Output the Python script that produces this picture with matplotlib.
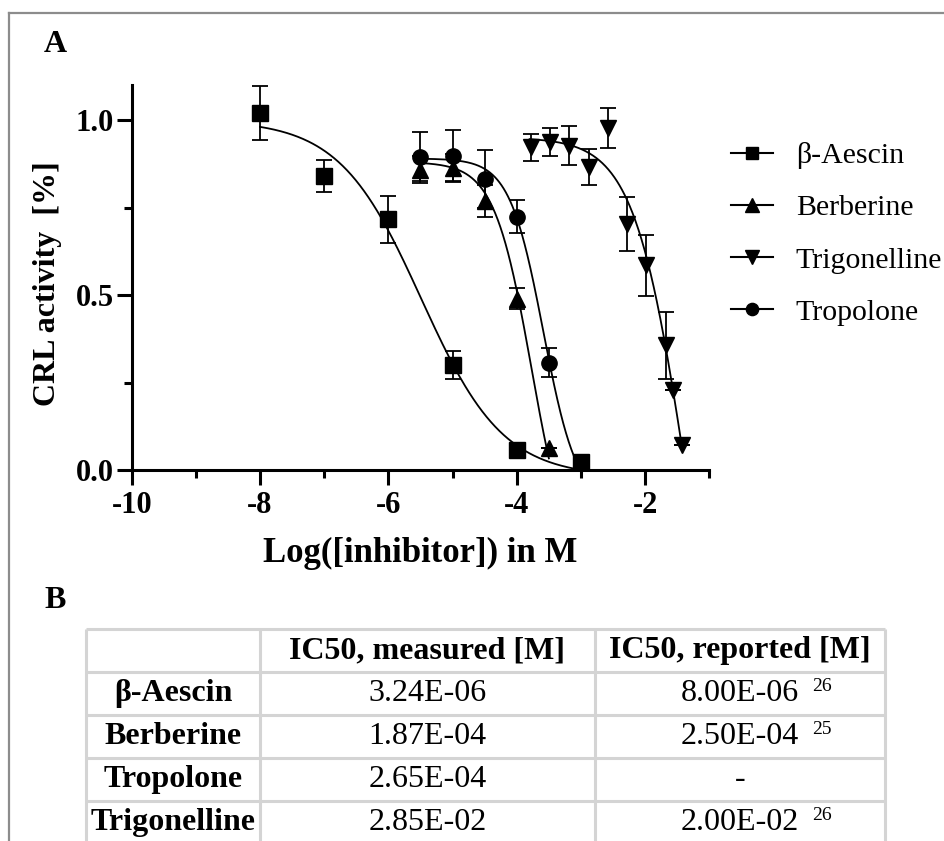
import numpy as np
import matplotlib
matplotlib.use('Agg')
from matplotlib import pyplot as plt
from matplotlib.lines import Line2D
from matplotlib.ticker import MultipleLocator, FormatStrFormatter

plt.rcParams['font.family'] = ['Liberation Serif', 'DejaVu Serif']
plt.rcParams['axes.unicode_minus'] = False

# Panel A: log10 concentration [M], relative CRL activity, error
aescin_x = [-8, -7, -6, -5, -4, -3]
aescin_y = [1.02, 0.84, 0.716, 0.30, 0.057, 0.024]
aescin_err = [0.076, 0.047, 0.067, 0.039, 0, 0]

berberine_x = [-5.5, -5, -4.5, -4, -3.5]
berberine_y = [0.858, 0.862, 0.768, 0.49, 0.062]
berberine_err = [0.038, 0.04, 0.046, 0.03, 0]

trigonelline_x = [-3.78, -3.48, -3.18, -2.88, -2.58, -2.28, -1.99, -1.68, -1.56, -1.43]
trigonelline_y = [0.922, 0.936, 0.927, 0.865, 0.977, 0.703, 0.585, 0.356, 0.228, 0.071]
trigonelline_err = [0.038, 0.04, 0.055, 0.052, 0.058, 0.077, 0.087, 0.095, 0, 0]

tropolone_x = [-5.5, -5, -4.5, -4, -3.5]
tropolone_y = [0.895, 0.898, 0.832, 0.724, 0.307]
tropolone_err = [0.07, 0.073, 0.083, 0.047, 0.041]

# fitted 4PL curves: [top, bottom, logIC50, hill, x_start, x_end]
aescin_fit = [1.0, -0.02, -5.49, 0.68, -8, -3]
berberine_fit = [0.88, -0.3, -3.77, 1.5, -5.5, -3.5]
trigonelline_fit = [0.95, -1.0, -1.35, 1.07, -3.8, -1.43]
tropolone_fit = [0.89, -0.1, -3.585, 1.65, -5.5, -3.0]

# Panel B table
table_header = ['', 'IC50, measured [M]', 'IC50, reported [M]']
table_rows = ['β-Aescin', 'Berberine', 'Tropolone', 'Trigonelline']
ic50_measured = ['3.24E-06', '1.87E-04', '2.65E-04', '2.85E-02']
ic50_reported = ['8.00E-06', '2.50E-04', '-', '2.00E-02']
ref_numbers = ['26', '25', '', '26']


def four_pl(x, top, bottom, logic50, hill):
    return bottom + (top - bottom) / (1 + 10 ** (hill * (x - logic50)))


W, H = 945, 841
fig = plt.figure(figsize=(W / 100, H / 100), dpi=100)

ax = fig.add_axes([131.7 / W, 1 - 470 / H, (709.3 - 131.7) / W, (470 - 85) / H])

series = [
    ('β-Aescin', aescin_x, aescin_y, aescin_err, aescin_fit, 's', 11),
    ('Berberine', berberine_x, berberine_y, berberine_err, berberine_fit, '^', 12),
    ('Trigonelline', trigonelline_x, trigonelline_y, trigonelline_err, trigonelline_fit, 'v', 12),
    ('Tropolone', tropolone_x, tropolone_y, tropolone_err, tropolone_fit, 'o', 11),
]

handles = []
for name, xs, ys, errs, fit, marker, ms in series:
    top, bottom, logic50, hill, x0, x1 = fit
    xx = np.linspace(x0, x1, 300)
    ax.plot(xx, four_pl(xx, top, bottom, logic50, hill), color='black', lw=1.3, zorder=2)
    ax.errorbar(xs, ys, yerr=errs, fmt=marker, color='black', ms=ms,
                ecolor='black', elinewidth=1.3, capsize=5.5, capthick=1.3, zorder=3)
    handles.append(Line2D([], [], color='black', lw=1.5, marker=marker, ms=ms * 0.8))

ax.set_xlim(-10, -1)
ax.set_ylim(0, 1.1)
ax.xaxis.set_minor_locator(MultipleLocator(1))
ax.yaxis.set_major_locator(MultipleLocator(0.5))
ax.yaxis.set_minor_locator(MultipleLocator(0.25))
ax.yaxis.set_major_formatter(FormatStrFormatter('%.1f'))
ax.set_xticks([-10, -8, -6, -4, -2])

for side in ['top', 'right']:
    ax.spines[side].set_visible(False)
for side in ['left', 'bottom']:
    ax.spines[side].set_linewidth(2.2)

ax.tick_params(which='major', direction='out', length=11, width=2.2, labelsize=22)
ax.tick_params(which='minor', direction='out', length=6, width=2.2)
ax.tick_params(axis='x', which='major', pad=4)
ax.tick_params(axis='y', which='major', pad=2)
for lab in ax.get_xticklabels() + ax.get_yticklabels():
    lab.set_fontweight('bold')

ax.set_xlabel('Log([inhibitor]) in M', fontsize=25, fontweight='bold', labelpad=12)
ax.set_ylabel('CRL activity  [%]', fontsize=23, fontweight='bold', labelpad=10, y=0.485)

fig.legend(handles, [s[0] for s in series], loc='upper left',
           bbox_to_anchor=(731 / W, 1 - 142 / H), frameon=False, fontsize=21.5,
           handlelength=1.42, handletextpad=0.75, labelspacing=0.85,
           borderpad=0, borderaxespad=0)

# panel letters
fig.text(44 / W, 1 - 45 / H, 'A', fontsize=23, fontweight='bold', va='center', ha='left')
fig.text(44 / W, 1 - 601 / H, 'B', fontsize=23, fontweight='bold', va='center', ha='left')

# outer frame (left and top edges visible)
frame_color = '#8c8c8c'
fig.add_artist(Line2D([9.5 / W, 9.5 / W], [0, 1 - 13 / H], color=frame_color, lw=1.6,
                      transform=fig.transFigure))
fig.add_artist(Line2D([9.5 / W, 1], [1 - 13 / H, 1 - 13 / H], color=frame_color, lw=1.6,
                      transform=fig.transFigure))

# Panel B table
col_edges = [0, 174, 509, 799]
n_rows = len(table_rows) + 1
tax = fig.add_axes([86 / W, 1 - 844 / H, 799 / W, (844 - 629.3) / H])
tax.set_xlim(0, col_edges[-1])
tax.set_ylim(n_rows, 0)
tax.axis('off')
grid_color = '#d4d4d4'
tax.hlines(range(n_rows + 1), 0, col_edges[-1], color=grid_color, lw=2.2, clip_on=False)
tax.vlines(col_edges, 0, n_rows, color=grid_color, lw=2.2, clip_on=False)

centers = [(col_edges[i] + col_edges[i + 1]) / 2 for i in range(3)]
for j, head in enumerate(table_header):
    tax.text(centers[j], 0.5, head, ha='center', va='center', fontsize=23, fontweight='bold')
for i, name in enumerate(table_rows):
    yc = i + 1.5
    tax.text(centers[0], yc, name, ha='center', va='center', fontsize=23, fontweight='bold')
    tax.text(centers[1], yc, ic50_measured[i], ha='center', va='center', fontsize=23)
    tax.text(centers[2], yc, ic50_reported[i], ha='center', va='center', fontsize=23)
    if ref_numbers[i]:
        tax.text(centers[2] + 72, yc - 0.17, ref_numbers[i], ha='left', va='center', fontsize=14)

fig.savefig('out.png', dpi=100)
